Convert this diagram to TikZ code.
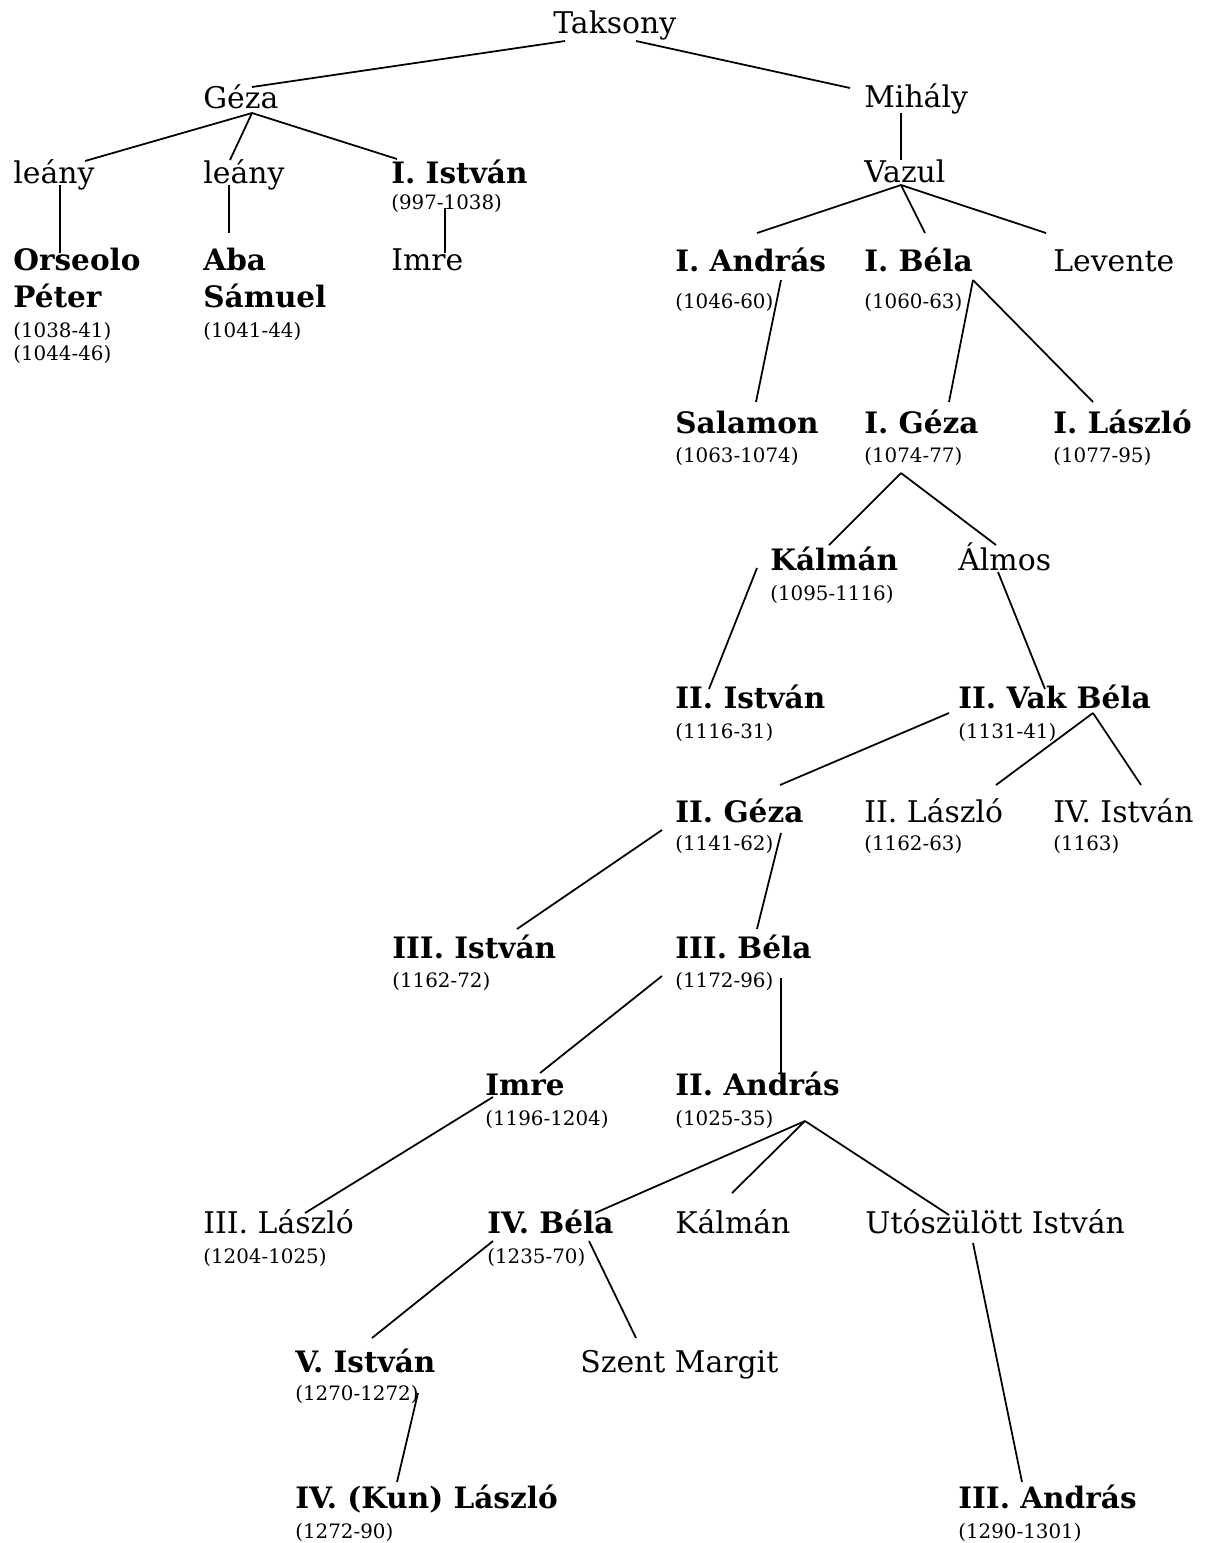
\documentclass[tikz,border=0pt]{standalone}
\usepackage{fontspec}
\setmainfont{DejaVu Serif}
\usepackage{tikz}
\usetikzlibrary{positioning, calc}

\tikzset{
    nev/.style={anchor=base west, inner sep=0pt, font=\fontsize{17}{19}\selectfont},
    kiraly/.style={nev, font=\fontsize{16.8}{19}\selectfont\bfseries},
    evszam/.style={anchor=base west, inner sep=0pt, font=\fontsize{11.3}{13}\selectfont},
    ag/.style={line width=1pt}
}

\begin{document}
\begin{tikzpicture}[x=0.02cm, y=-0.02cm]
    \useasboundingbox (0,0) rectangle (1210,1543);

    % Taksony es Geza aga
    \node[nev] (taksony) at (553,33) {Taksony};
    \node[nev] (geza) at (203,108) {Géza};
    \node[nev] (mihaly) at (864,107) {Mihály};
    \node[nev] (leany1) at (13,183) {leány};
    \node[nev] (leany2) at (203,183) {leány};
    \node[kiraly] (istvan1) at (391,183) {I. István};
    \node[evszam] (istvan1-ev) at (391,209) {(997-1038)};
    \node[kiraly] (orseolo) at (13,270) {Orseolo};
    \node[kiraly] (orseolo-2) at (13,307) {Péter};
    \node[evszam] (orseolo-ev) at (13,337) {(1038-41)};
    \node[evszam] (orseolo-ev2) at (13,360) {(1044-46)};
    \node[kiraly] (aba) at (203,270) {Aba};
    \node[kiraly] (aba-2) at (203,307) {Sámuel};
    \node[evszam] (aba-ev) at (203,337) {(1041-44)};
    \node[nev] (imre1) at (391,270) {Imre};

    % Vazul aga
    \node[nev] (vazul) at (864,182) {Vazul};
    \node[kiraly] (andras1) at (675,271) {I. András};
    \node[evszam] (andras1-ev) at (675,308) {(1046-60)};
    \node[kiraly] (bela1) at (864,271) {I. Béla};
    \node[evszam] (bela1-ev) at (864,308) {(1060-63)};
    \node[nev] (levente) at (1053,271) {Levente};
    \node[kiraly] (salamon) at (675,433) {Salamon};
    \node[evszam] (salamon-ev) at (675,462) {(1063-1074)};
    \node[kiraly] (geza1) at (864,433) {I. Géza};
    \node[evszam] (geza1-ev) at (864,462) {(1074-77)};
    \node[kiraly] (laszlo1) at (1053,433) {I. László};
    \node[evszam] (laszlo1-ev) at (1053,462) {(1077-95)};
    \node[kiraly] (kalman1) at (770,570) {Kálmán};
    \node[evszam] (kalman1-ev) at (770,600) {(1095-1116)};
    \node[nev] (almos) at (958,570) {Álmos};
    \node[kiraly] (istvan2) at (675,708) {II. István};
    \node[evszam] (istvan2-ev) at (675,738) {(1116-31)};
    \node[kiraly] (vakbela) at (958,708) {II. Vak Béla};
    \node[evszam] (vakbela-ev) at (958,738) {(1131-41)};
    \node[kiraly] (geza2) at (675,822) {II. Géza};
    \node[evszam] (geza2-ev) at (675,850) {(1141-62)};
    \node[nev] (laszlo2) at (864,822) {II. László};
    \node[evszam] (laszlo2-ev) at (864,850) {(1162-63)};
    \node[nev] (istvan4) at (1053,822) {IV. István};
    \node[evszam] (istvan4-ev) at (1053,850) {(1163)};
    \node[kiraly] (istvan3) at (392,958) {III. István};
    \node[evszam] (istvan3-ev) at (392,987) {(1162-72)};
    \node[kiraly] (bela3) at (675,958) {III. Béla};
    \node[evszam] (bela3-ev) at (675,987) {(1172-96)};
    \node[kiraly] (imre2) at (485,1095) {Imre};
    \node[evszam] (imre2-ev) at (485,1125) {(1196-1204)};
    \node[kiraly] (andras2) at (675,1095) {II. András};
    \node[evszam] (andras2-ev) at (675,1125) {(1025-35)};
    \node[nev] (laszlo3) at (203,1233) {III. László};
    \node[evszam] (laszlo3-ev) at (203,1263) {(1204-1025)};
    \node[kiraly] (bela4) at (487,1233) {IV. Béla};
    \node[evszam] (bela4-ev) at (487,1263) {(1235-70)};
    \node[nev] (kalman2) at (675,1233) {Kálmán};
    \node[nev] (utoszulott) at (865,1233) {Utószülött István};
    \node[kiraly] (istvan5) at (295,1372) {V. István};
    \node[evszam] (istvan5-ev) at (295,1400) {(1270-1272)};
    \node[nev] (margit) at (580,1372) {Szent Margit};
    \node[kiraly] (laszlo4) at (295,1508) {IV. (Kun) László};
    \node[evszam] (laszlo4-ev) at (295,1538) {(1272-90)};
    \node[kiraly] (andras3) at (958,1508) {III. András};
    \node[evszam] (andras3-ev) at (958,1538) {(1290-1301)};

    % Vonalak vegpontjai
    \coordinate (taksony-b) at (565,41);
    \coordinate (taksony-j) at (636,41);
    \coordinate (geza-f) at (252,87);
    \coordinate (geza-a) at (252,113);
    \coordinate (mihaly-f) at (850,88);
    \coordinate (mihaly-a) at (901,113);
    \coordinate (leany1-f) at (85,161);
    \coordinate (leany1-a) at (60,185);
    \coordinate (leany2-f) at (230,160);
    \coordinate (leany2-a) at (229,185);
    \coordinate (istvan1-f) at (397,159);
    \coordinate (istvan1-a) at (445,208);
    \coordinate (orseolo-f) at (60,253);
    \coordinate (aba-f) at (229,233);
    \coordinate (imre1-f) at (445,253);
    \coordinate (vazul-f) at (901,160);
    \coordinate (vazul-a) at (901,185);
    \coordinate (andras1-f) at (757,233);
    \coordinate (andras1-a) at (781,280);
    \coordinate (bela1-f) at (925,233);
    \coordinate (bela1-a) at (973,280);
    \coordinate (levente-f) at (1046,233);
    \coordinate (salamon-f) at (756,402);
    \coordinate (geza1-f) at (949,402);
    \coordinate (geza1-a) at (901,473);
    \coordinate (laszlo1-f) at (1093,402);
    \coordinate (kalman1-f) at (829,545);
    \coordinate (kalman1-a) at (757,568);
    \coordinate (almos-f) at (996,545);
    \coordinate (almos-a) at (998,572);
    \coordinate (istvan2-f) at (709,689);
    \coordinate (vakbela-f) at (1045,689);
    \coordinate (vakbela-a) at (949,713);
    \coordinate (vakbela-a2) at (1093,713);
    \coordinate (geza2-f) at (780,785);
    \coordinate (geza2-a) at (662,830);
    \coordinate (geza2-a2) at (781,833);
    \coordinate (laszlo2-f) at (996,785);
    \coordinate (istvan4-f) at (1141,785);
    \coordinate (istvan3-f) at (517,929);
    \coordinate (bela3-f) at (757,929);
    \coordinate (bela3-a) at (662,976);
    \coordinate (bela3-a2) at (781,978);
    \coordinate (imre2-f) at (540,1073);
    \coordinate (imre2-a) at (493,1097);
    \coordinate (andras2-f) at (781,1073);
    \coordinate (andras2-a) at (805,1121);
    \coordinate (laszlo3-f) at (305,1213);
    \coordinate (bela4-f) at (595,1213);
    \coordinate (bela4-a) at (493,1241);
    \coordinate (bela4-a2) at (589,1241);
    \coordinate (kalman2-f) at (732,1193);
    \coordinate (utoszulott-f) at (949,1215);
    \coordinate (utoszulott-a) at (973,1243);
    \coordinate (istvan5-f) at (372,1338);
    \coordinate (istvan5-a) at (418,1393);
    \coordinate (margit-f) at (636,1338);
    \coordinate (laszlo4-f) at (397,1482);
    \coordinate (andras3-f) at (1022,1482);

    % Leszarmazasi vonalak
    \draw[ag] (taksony-b) -- (geza-f);
    \draw[ag] (taksony-j) -- (mihaly-f);
    \draw[ag] (geza-a) -- (leany1-f);
    \draw[ag] (geza-a) -- (leany2-f);
    \draw[ag] (geza-a) -- (istvan1-f);
    \draw[ag] (leany1-a) -- (orseolo-f);
    \draw[ag] (leany2-a) -- (aba-f);
    \draw[ag] (istvan1-a) -- (imre1-f);
    \draw[ag] (mihaly-a) -- (vazul-f);
    \draw[ag] (vazul-a) -- (andras1-f);
    \draw[ag] (vazul-a) -- (bela1-f);
    \draw[ag] (vazul-a) -- (levente-f);
    \draw[ag] (andras1-a) -- (salamon-f);
    \draw[ag] (bela1-a) -- (geza1-f);
    \draw[ag] (bela1-a) -- (laszlo1-f);
    \draw[ag] (geza1-a) -- (kalman1-f);
    \draw[ag] (geza1-a) -- (almos-f);
    \draw[ag] (kalman1-a) -- (istvan2-f);
    \draw[ag] (almos-a) -- (vakbela-f);
    \draw[ag] (vakbela-a) -- (geza2-f);
    \draw[ag] (vakbela-a2) -- (laszlo2-f);
    \draw[ag] (vakbela-a2) -- (istvan4-f);
    \draw[ag] (geza2-a) -- (istvan3-f);
    \draw[ag] (geza2-a2) -- (bela3-f);
    \draw[ag] (bela3-a) -- (imre2-f);
    \draw[ag] (bela3-a2) -- (andras2-f);
    \draw[ag] (imre2-a) -- (laszlo3-f);
    \draw[ag] (andras2-a) -- (bela4-f);
    \draw[ag] (andras2-a) -- (kalman2-f);
    \draw[ag] (andras2-a) -- (utoszulott-f);
    \draw[ag] (bela4-a) -- (istvan5-f);
    \draw[ag] (bela4-a2) -- (margit-f);
    \draw[ag] (istvan5-a) -- (laszlo4-f);
    \draw[ag] (utoszulott-a) -- (andras3-f);
\end{tikzpicture}
\end{document}
